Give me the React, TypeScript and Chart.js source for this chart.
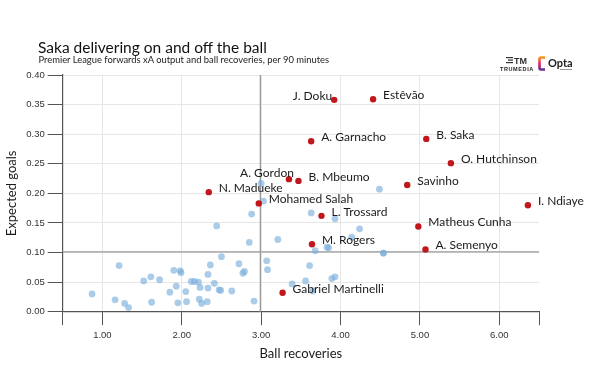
import React, { useEffect, useRef } from 'react';
import { Chart, registerables } from 'chart.js';

Chart.register(...registerables);

// ---- Data ----
const namedPlayers = [
  'J. Doku', 'Estêvão', 'A. Garnacho', 'B. Saka', 'O. Hutchinson', 'Savinho', 'I. Ndiaye',
  'A. Gordon', 'B. Mbeumo', 'N. Madueke', 'Mohamed Salah', 'L. Trossard', 'Matheus Cunha',
  'M. Rogers', 'A. Semenyo', 'Gabriel Martinelli',
];
const namedRecoveries = [3.92, 4.41, 3.63, 5.08, 5.39, 4.84, 6.36, 3.35, 3.47, 2.34, 2.97, 3.76, 4.98, 3.64, 5.07, 3.27];
const namedXA = [0.358, 0.359, 0.288, 0.292, 0.251, 0.214, 0.180, 0.224, 0.221, 0.202, 0.183, 0.162, 0.144, 0.114, 0.105, 0.032];

const otherRecoveries = [
  3.00, 3.03, 2.88, 2.44, 2.85, 3.21, 1.21, 0.87, 1.16, 1.28, 1.33, 1.52, 1.61, 1.72, 1.62, 1.85,
  1.90, 1.98, 1.99, 1.93, 1.95, 2.05, 2.06, 2.12, 2.16, 2.21, 2.23, 2.22, 2.25, 2.32, 2.33, 2.33,
  2.36, 2.41, 2.47, 2.49, 2.50, 2.63, 2.72, 2.77, 2.79, 2.91, 3.07, 3.08,
  4.49, 3.63, 3.93, 4.24, 4.14, 3.68, 3.83, 3.85, 4.54, 4.54, 3.61, 3.56, 3.39, 3.89, 3.93, 3.65,
];
const otherXA = [
  0.217, 0.187, 0.165, 0.145, 0.117, 0.122, 0.078, 0.030, 0.020, 0.014, 0.007, 0.052, 0.059, 0.054, 0.016, 0.033,
  0.070, 0.069, 0.066, 0.043, 0.015, 0.034, 0.017, 0.051, 0.051, 0.050, 0.041, 0.021, 0.014, 0.017, 0.040, 0.063,
  0.079, 0.048, 0.037, 0.036, 0.093, 0.035, 0.081, 0.065, 0.068, 0.018, 0.086, 0.071,
  0.207, 0.167, 0.157, 0.140, 0.126, 0.103, 0.109, 0.108, 0.099, 0.099, 0.078, 0.052, 0.047, 0.056, 0.059, 0.035,
];

const avgRecoveries = 2.99;
const avgXA = 0.101;

const xMin = 0.5;
const xMax = 6.5;
const xTickValues = [1, 2, 3, 4, 5, 6];
const yMin = 0;
const yMax = 0.4;
const yTickValues = [0, 0.05, 0.1, 0.15, 0.2, 0.25, 0.3, 0.35, 0.4];

const TITLE = 'Saka delivering on and off the ball';
const SUBTITLE = 'Premier League forwards xA output and ball recoveries, per 90 minutes';

const refLinesPlugin = {
  id: 'refLines',
  beforeDatasetsDraw(chart: any) {
    const { ctx, chartArea, scales } = chart;
    const x = scales.x.getPixelForValue(avgRecoveries);
    const y = scales.y.getPixelForValue(avgXA);
    ctx.save();
    ctx.strokeStyle = '#9a9a9a';
    ctx.lineWidth = 1.3;
    ctx.beginPath();
    ctx.moveTo(x, chartArea.top);
    ctx.lineTo(x, chartArea.bottom);
    ctx.moveTo(chartArea.left, y);
    ctx.lineTo(chartArea.right, y);
    ctx.stroke();
    ctx.restore();
  },
};

const labelPlugin = {
  id: 'pointLabels',
  afterDatasetsDraw(chart: any) {
    const { ctx } = chart;
    const meta = chart.getDatasetMeta(0);
    ctx.save();
    ctx.font = '12px Lato';
    ctx.fillStyle = '#1a1a1a';
    ctx.textBaseline = 'middle';
    meta.data.forEach((el: any, i: number) => {
      const name = namedPlayers[i];
      if (name === 'J. Doku') {
        ctx.textAlign = 'right';
        ctx.fillText(name, el.x - 2, el.y - 4);
      } else if (name === 'A. Gordon') {
        ctx.textAlign = 'right';
        ctx.fillText(name, el.x + 5, el.y - 6);
      } else {
        ctx.textAlign = 'left';
        ctx.fillText(name, el.x + 10, el.y - 4);
      }
    });
    ctx.restore();
  },
};

export default function App() {
  const ref = useRef<HTMLCanvasElement>(null);

  useEffect(() => {
    if (!ref.current) return;
    const tickFont = { family: 'Liberation Sans, Arial, sans-serif', size: 9.5 };
    const chart = new Chart(ref.current, {
      type: 'scatter',
      data: {
        datasets: [
          {
            label: 'Highlighted',
            data: namedRecoveries.map((v, i) => ({ x: v, y: namedXA[i] })),
            backgroundColor: '#c0171d',
            borderWidth: 0,
            pointRadius: 3.2,
          },
          {
            label: 'Other forwards',
            data: otherRecoveries.map((v, i) => ({ x: v, y: otherXA[i] })),
            backgroundColor: 'rgba(120,172,218,0.62)',
            borderWidth: 0,
            pointRadius: 3.4,
          },
        ],
      },
      options: {
        responsive: false,
        animation: false,
        layout: { padding: { top: 75, right: 64, left: 0, bottom: 0 } },
        plugins: {
          legend: { display: false },
          tooltip: { enabled: false },
        },
        scales: {
          x: {
            type: 'linear',
            min: xMin,
            max: xMax,
            afterBuildTicks: (s: any) => {
              s.ticks = [xMin, ...xTickValues, xMax].map((v) => ({ value: v }));
            },
            afterFit: (s: any) => { s.height = 65.3; },
            ticks: {
              font: tickFont,
              color: '#333',
              padding: 4,
              maxRotation: 0,
              autoSkip: false,
              callback: (v: any) => (xTickValues.includes(Number(v)) ? Number(v).toFixed(2) : ''),
            },
            grid: {
              color: (c: any) =>
                c.tick && (c.tick.value === xMin || c.tick.value === xMax) ? 'rgba(0,0,0,0)' : '#e6e6e6',
              tickColor: '#555',
              tickLength: 13.5,
              lineWidth: 1,
            },
            border: { display: true, color: '#555', width: 1.2 },
            title: {
              display: true,
              text: 'Ball recoveries',
              font: { family: 'Lato', size: 13 },
              color: '#1a1a1a',
              padding: { top: 0, bottom: 15 },
            },
          },
          y: {
            type: 'linear',
            min: yMin,
            max: yMax,
            afterBuildTicks: (s: any) => {
              s.ticks = yTickValues.map((v) => ({ value: v }));
            },
            afterFit: (s: any) => { s.width = 62.7; },
            ticks: {
              font: tickFont,
              color: '#333',
              padding: 3,
              autoSkip: false,
              callback: (v: any) => Number(v).toFixed(2),
            },
            grid: {
              color: '#e6e6e6',
              tickColor: '#555',
              tickLength: 15,
              lineWidth: 1,
            },
            border: { display: true, color: '#555', width: 1.2 },
            title: {
              display: true,
              text: 'Expected goals',
              font: { family: 'Lato', size: 13 },
              color: '#1a1a1a',
              padding: { top: 4.4, bottom: 0 },
            },
          },
        },
      },
      plugins: [refLinesPlugin, labelPlugin],
    } as any);
    return () => chart.destroy();
  }, []);

  return (
    <div style={{ position: 'absolute', left: 0, top: 0, width: 603, height: 377, background: '#fff', overflow: 'hidden' }}>
      <canvas ref={ref} width={603} height={377} style={{ position: 'absolute', left: 0, top: 0 }} />
      <div style={{ position: 'absolute', left: 38, top: 38, font: '15.5px Lato', lineHeight: '18px', color: '#111', whiteSpace: 'nowrap' }}>
        {TITLE}
      </div>
      <div style={{ position: 'absolute', left: 38.5, top: 54, font: '9.4px Lato', lineHeight: '12px', color: '#222', whiteSpace: 'nowrap' }}>
        {SUBTITLE}
      </div>
      <div style={{ position: 'absolute', left: 499, top: 55, width: 36, height: 20 }}>
        <svg width="36" height="10" viewBox="0 0 36 10" style={{ position: 'absolute', left: 0, top: 0 }}>
          <rect x="7" y="2" width="7" height="1.2" fill="#333" />
          <rect x="9" y="4.5" width="5" height="1.2" fill="#333" />
          <rect x="7" y="7" width="7" height="1.2" fill="#333" />
          <text x="15" y="8.5" fontFamily="Liberation Sans, Arial" fontWeight="bold" fontSize="9" fill="#333">TM</text>
        </svg>
        <div style={{ position: 'absolute', left: 1, top: 11, font: 'bold 5.5px Liberation Sans, Arial', letterSpacing: '0.6px', color: '#222', whiteSpace: 'nowrap' }}>
          TRUMEDIA
        </div>
      </div>
      <div style={{ position: 'absolute', left: 538, top: 55, width: 40, height: 18 }}>
        <svg width="9" height="15" viewBox="0 0 9 15" style={{ position: 'absolute', left: 0, top: 1 }}>
          <defs>
            <linearGradient id="optaG" x1="0" y1="0" x2="0" y2="1">
              <stop offset="0" stopColor="#f7941d" />
              <stop offset="0.5" stopColor="#e4226b" />
              <stop offset="1" stopColor="#6a2c91" />
            </linearGradient>
          </defs>
          <path d="M7 1.5 H3 Q1.5 1.5 1.5 3 V12 Q1.5 13.5 3 13.5 H7" stroke="url(#optaG)" strokeWidth="2.6" fill="none" />
        </svg>
        <div style={{ position: 'absolute', left: 10, top: 1, font: 'bold 11px Lato, Liberation Sans, Arial', color: '#222', whiteSpace: 'nowrap' }}>
          Opta
        </div>
        <div style={{ position: 'absolute', left: 22, top: 13.5, width: 12, height: 1, background: '#999' }} />
      </div>
    </div>
  );
}
